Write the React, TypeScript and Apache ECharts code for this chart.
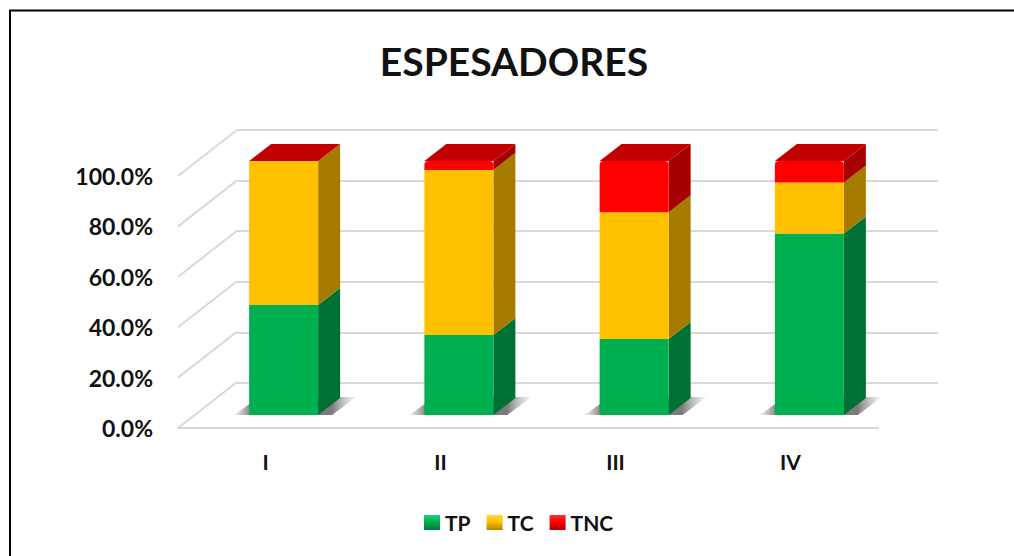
import React, { useEffect, useRef } from "react";
import * as echarts from "echarts";

const titleText = "ESPESADORES";
const categories = ["I", "II", "III", "IV"];
const seriesNames = ["TP", "TC", "TNC"];
const tp = [43.3, 31.5, 29.9, 71.5];
const tc = [56.7, 65.0, 49.9, 20.0];
const tnc = [0, 3.5, 20.2, 8.5];
const yTicks = [0, 20, 40, 60, 80, 100];

const FONT = "Lato";
const TEXT = "#111111";
const GRIDLINE = "#D9D9D9";
const BAR_WIDTH = 69;
const BAR_DX = 22;
const BAR_DY = -17;
const WALL_DX = 59;
const WALL_DY = -46;

const faces = [
  { front: "#00B050", side: "#007035", legendTop: "#1FD070", legendBottom: "#007A3A" },
  { front: "#FFC000", side: "#A67C00", legendTop: "#FFD83A", legendBottom: "#B08600" },
  { front: "#FF0000", side: "#A60000", legendTop: "#FF3030", legendBottom: "#B00000" },
];
const TOP_COLOR = "#C00000";

function stackedSeries(index: number, values: number[], below: number[][]) {
  const face = faces[index];
  const isLast = index === 2;
  const data = values.map((v, i) => {
    const start = below.reduce((s, arr) => s + arr[i], 0);
    return [i, start, start + v];
  });
  return {
    name: seriesNames[index],
    type: "custom",
    xAxisIndex: 2,
    yAxisIndex: 2,
    clip: false,
    z: 5,
    itemStyle: {
      color: new echarts.graphic.LinearGradient(0, 0, 0, 1, [
        { offset: 0, color: face.legendTop },
        { offset: 0.45, color: face.front },
        { offset: 1, color: face.legendBottom },
      ]),
    },
    data,
    renderItem: (_p: any, api: any) => {
      const base = api.coord([api.value(0), api.value(1)]);
      const topP = api.coord([api.value(0), api.value(2)]);
      const x0 = base[0] - BAR_WIDTH / 2;
      const x1 = x0 + BAR_WIDTH;
      const yb = base[1];
      const yt = topP[1];
      const children: any[] = [];
      children.push({
        type: "polygon",
        shape: {
          points: [
            [x1, yb],
            [x1 + BAR_DX, yb + BAR_DY],
            [x1 + BAR_DX, yt + BAR_DY],
            [x1, yt],
          ],
        },
        style: { fill: face.side },
      });
      if (yb - yt > 0.01) {
        children.push({
          type: "rect",
          shape: { x: x0, y: yt, width: BAR_WIDTH, height: yb - yt, r: isLast ? [4, 4, 0, 0] : 0 },
          style: { fill: face.front },
        });
      }
      if (isLast) {
        children.push({
          type: "polygon",
          shape: {
            points: [
              [x0, yt],
              [x0 + BAR_DX, yt + BAR_DY],
              [x1 + BAR_DX, yt + BAR_DY],
              [x1, yt],
            ],
          },
          style: { fill: TOP_COLOR },
        });
      }
      return { type: "group", children };
    },
  };
}

export default function App() {
  const ref = useRef<HTMLDivElement>(null);
  useEffect(() => {
    const chart = echarts.init(ref.current!, null, { renderer: "svg" });
    const hiddenCat = { type: "category", data: categories, show: false };
    const hiddenVal = { type: "value", min: 0, max: 100, interval: 20, show: false };
    chart.setOption({
      animation: false,
      backgroundColor: "#ffffff",
      title: {
        text: titleText,
        left: 509,
        top: 36,
        textAlign: "center",
        textStyle: { fontFamily: FONT, fontWeight: "bold", fontSize: 39, color: "#111111" },
      },
      legend: {
        data: seriesNames,
        left: 419,
        top: 507,
        itemWidth: 16,
        itemHeight: 15,
        itemGap: 16,
        itemStyle: { borderWidth: 0 },
        icon: "rect",
        textStyle: { fontFamily: FONT, fontWeight: "bold", fontSize: 21, color: TEXT },
      },
      graphic: [
        {
          type: "rect",
          shape: { x: 10, y: 10.5, width: 1100, height: 700 },
          style: { fill: "none", stroke: "#000000", lineWidth: 2 },
          silent: true,
        },
      ],
      grid: [
        { left: 178, top: 176, width: 700, height: 252 },
        { left: 237, top: 130, width: 701, height: 253 },
        { left: 196, top: 161, width: 701, height: 254 },
      ],
      xAxis: [
        {
          type: "category",
          data: categories,
          gridIndex: 0,
          axisTick: { show: false },
          axisLine: { show: true, lineStyle: { color: GRIDLINE, width: 2 } },
          axisLabel: {
            margin: 23,
            fontFamily: FONT,
            fontWeight: "bold",
            fontSize: 21,
            color: TEXT,
          },
        },
        { ...hiddenCat, gridIndex: 1 },
        { ...hiddenCat, gridIndex: 2 },
      ],
      yAxis: [
        {
          type: "value",
          gridIndex: 0,
          min: 0,
          max: 100,
          interval: 20,
          axisLine: { show: false },
          axisTick: { show: false },
          splitLine: { show: false },
          axisLabel: {
            margin: 25,
            fontFamily: FONT,
            fontWeight: "bold",
            fontSize: 23,
            color: TEXT,
            formatter: (v: number) => v.toFixed(1) + "%",
          },
        },
        {
          type: "value",
          gridIndex: 1,
          min: 0,
          max: 100,
          interval: 20,
          axisLine: { show: false },
          axisTick: { show: false },
          axisLabel: { show: false },
          splitLine: { show: true, lineStyle: { color: GRIDLINE, width: 2 } },
        },
        { ...hiddenVal, gridIndex: 2 },
      ],
      series: [
        {
          type: "custom",
          name: "walls",
          xAxisIndex: 0,
          yAxisIndex: 0,
          clip: false,
          silent: true,
          z: 1,
          data: yTicks.map((t) => [0, t]),
          renderItem: (_p: any, api: any) => {
            const c = api.coord([0, api.value(1)]);
            const x = 178;
            return {
              type: "line",
              shape: { x1: x, y1: c[1], x2: x + WALL_DX, y2: c[1] + WALL_DY },
              style: { stroke: GRIDLINE, lineWidth: 2 },
            };
          },
        },
        {
          type: "custom",
          name: "shadow",
          xAxisIndex: 2,
          yAxisIndex: 2,
          clip: false,
          silent: true,
          z: 2,
          data: categories.map((_c, i) => [i, 0]),
          renderItem: (_p: any, api: any) => {
            const c = api.coord([api.value(0), 0]);
            const x0 = c[0] - BAR_WIDTH / 2;
            const x1 = x0 + BAR_WIDTH;
            const y = c[1];
            return {
              type: "polygon",
              shape: {
                points: [
                  [x0 - 15, y],
                  [x0 + 10, y - 18],
                  [x1 + 38, y - 18],
                  [x1 + 14, y],
                ],
              },
              style: {
                fill: new echarts.graphic.LinearGradient(0, 0, 1, 0, [
                  { offset: 0, color: "rgba(140,140,140,0.15)" },
                  { offset: 0.14, color: "rgba(90,90,90,0.8)" },
                  { offset: 0.8, color: "rgba(90,90,90,0.8)" },
                  { offset: 1, color: "rgba(160,160,160,0.1)" },
                ]),
              },
            };
          },
        },
        stackedSeries(0, tp, []),
        stackedSeries(1, tc, [tp]),
        stackedSeries(2, tnc, [tp, tc]),
      ],
    });
    return () => chart.dispose();
  }, []);
  return (
    <div
      ref={ref}
      style={{ position: "fixed", left: 0, top: 0, width: 1014, height: 556, background: "#fff" }}
    />
  );
}
